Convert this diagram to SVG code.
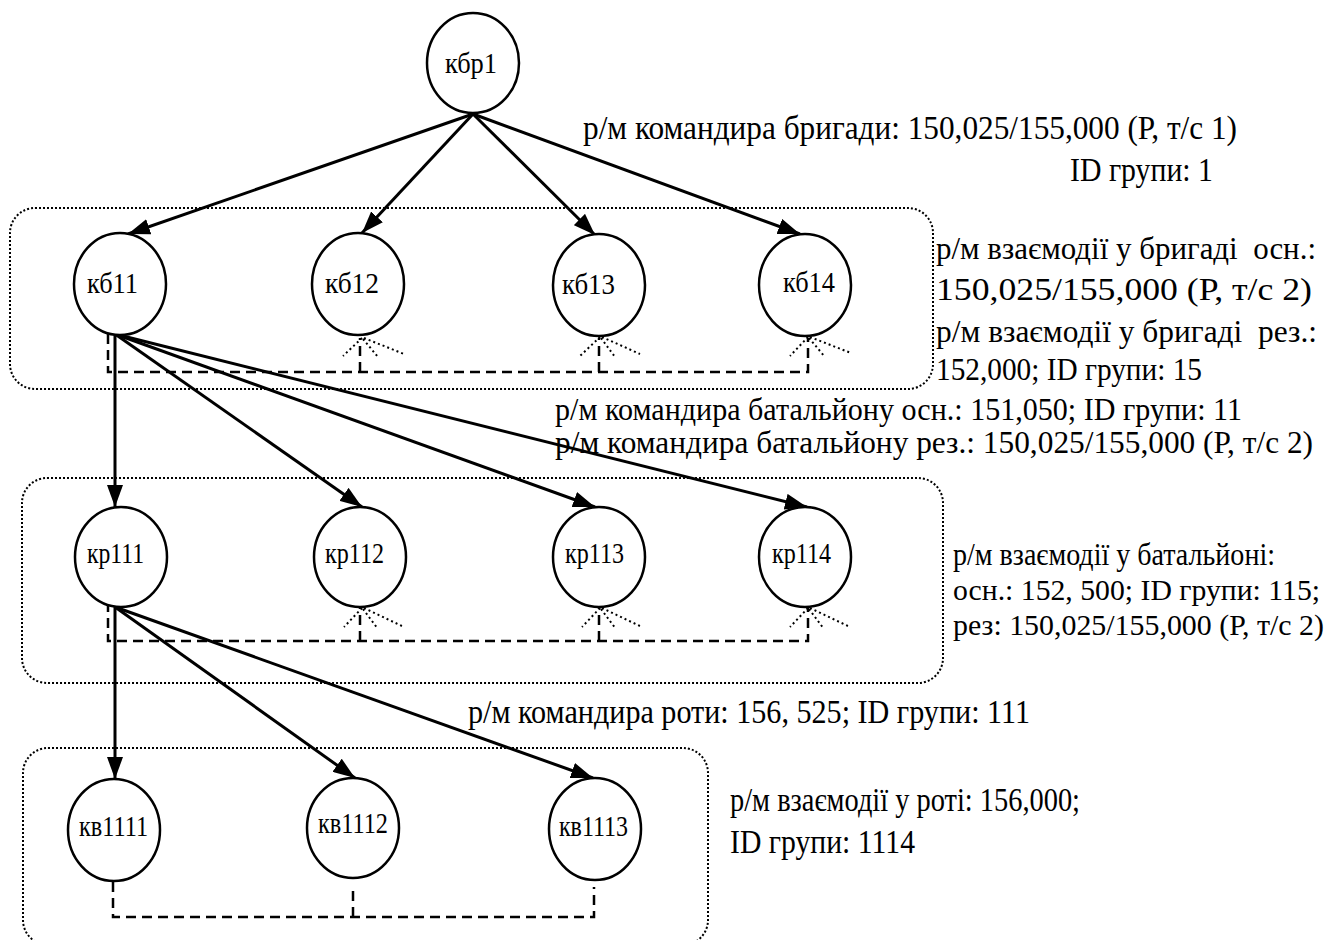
<svg xmlns="http://www.w3.org/2000/svg" width="1332" height="940" viewBox="0 0 1332 940">
<style>
.node ellipse{fill:#fff;stroke:#000;stroke-width:2.5}
.nl{font-family:"Liberation Serif","Times New Roman",serif;font-size:30px;fill:#000}
.lb{font-family:"Liberation Serif","Times New Roman",serif;font-size:33px;fill:#000}
.rs{font-size:31px}
.rt{font-size:29px}
.edge{stroke:#000;stroke-width:3;fill:none;marker-end:url(#ah)}
.box{fill:none;stroke:#000;stroke-width:2;stroke-dasharray:2,2}
.dash{fill:none;stroke:#000;stroke-width:2.5;stroke-dasharray:10,6}
.fan{fill:none;stroke:#000;stroke-width:2;stroke-dasharray:2,3}
</style>
<defs>
<marker id="ah" markerUnits="userSpaceOnUse" markerWidth="22" markerHeight="16" refX="22" refY="8" orient="auto">
<path d="M0,0 L22,8 L0,16 z" fill="#000"/>
</marker>
</defs>
<rect width="1332" height="940" fill="#fff"/>
<g id="groups">
<rect class="box" x="10" y="208" width="923" height="181" rx="25"/>
<rect class="box" x="22" y="478" width="921" height="205" rx="25"/>
<rect class="box" x="23" y="748" width="685" height="197" rx="25"/>
</g>
<g id="links">
<path class="dash" d="M108,334 V372 H808 V338 M360,372 V338 M599,372 V338"/>
<path class="fan" d="M362,338 L343,356 M363,339 L378,357 M364,338 L404,354 M600,337 L580,356 M601,338 L615,357 M602,337 L640,354 M808,337 L790,356 M809,338 L825,357 M810,337 L851,353"/>
<path class="dash" d="M108,602 V641 H808 V608 M360,641 V608 M599,641 V608"/>
<path class="fan" d="M362,608 L344,627 M363,609 L378,629 M364,608 L404,627 M600,608 L582,627 M601,609 L616,629 M602,608 L642,627 M808,608 L790,627 M809,609 L824,629 M810,608 L850,627"/>
<path class="dash" d="M113,882 V917 H594 V887 M353,917 V885"/>
</g>
<g id="connectors">
<line class="edge" x1="473" y1="114" x2="128" y2="234"/>
<line class="edge" x1="473" y1="114" x2="362" y2="233"/>
<line class="edge" x1="473" y1="114" x2="595" y2="235"/>
<line class="edge" x1="473" y1="114" x2="800" y2="234"/>
<line class="edge" x1="115" y1="334" x2="115" y2="507"/>
<line class="edge" x1="115" y1="334" x2="362" y2="507"/>
<line class="edge" x1="115" y1="334" x2="595" y2="507"/>
<line class="edge" x1="115" y1="334" x2="807" y2="507"/>
<line class="edge" x1="115" y1="607" x2="115" y2="779"/>
<line class="edge" x1="115" y1="607" x2="355" y2="778"/>
<line class="edge" x1="115" y1="607" x2="593" y2="778"/>
</g>
<g id="n_kbr1" class="node"><ellipse cx="473" cy="63" rx="46" ry="50"/><text class="nl" x="445" y="73" textLength="52" lengthAdjust="spacingAndGlyphs">кбр1</text></g>
<g id="n_kb11" class="node"><ellipse cx="120" cy="284" rx="46" ry="51"/><text class="nl" x="87" y="293" textLength="51" lengthAdjust="spacingAndGlyphs">кб11</text></g>
<g id="n_kb12" class="node"><ellipse cx="358" cy="284" rx="46" ry="51"/><text class="nl" x="325" y="293" textLength="54" lengthAdjust="spacingAndGlyphs">кб12</text></g>
<g id="n_kb13" class="node"><ellipse cx="599" cy="285" rx="46" ry="51"/><text class="nl" x="562" y="294" textLength="53" lengthAdjust="spacingAndGlyphs">кб13</text></g>
<g id="n_kb14" class="node"><ellipse cx="805" cy="285" rx="46" ry="51"/><text class="nl" x="783" y="292" textLength="52" lengthAdjust="spacingAndGlyphs">кб14</text></g>
<g id="n_kr111" class="node"><ellipse cx="121" cy="557" rx="46" ry="50"/><text class="nl" x="87" y="563" textLength="57" lengthAdjust="spacingAndGlyphs">кр111</text></g>
<g id="n_kr112" class="node"><ellipse cx="360" cy="557" rx="46" ry="50"/><text class="nl" x="325" y="563" textLength="59" lengthAdjust="spacingAndGlyphs">кр112</text></g>
<g id="n_kr113" class="node"><ellipse cx="599" cy="557" rx="46" ry="50"/><text class="nl" x="565" y="563" textLength="59" lengthAdjust="spacingAndGlyphs">кр113</text></g>
<g id="n_kr114" class="node"><ellipse cx="805" cy="557" rx="46" ry="50"/><text class="nl" x="772" y="563" textLength="59" lengthAdjust="spacingAndGlyphs">кр114</text></g>
<g id="n_kv1111" class="node"><ellipse cx="114" cy="830" rx="46" ry="51"/><text class="nl" x="79" y="836" textLength="69" lengthAdjust="spacingAndGlyphs">кв1111</text></g>
<g id="n_kv1112" class="node"><ellipse cx="353" cy="828" rx="46" ry="50"/><text class="nl" x="318" y="833" textLength="70" lengthAdjust="spacingAndGlyphs">кв1112</text></g>
<g id="n_kv1113" class="node"><ellipse cx="595" cy="829" rx="46" ry="51"/><text class="nl" x="559" y="836" textLength="69" lengthAdjust="spacingAndGlyphs">кв1113</text></g>
<g id="labels">
<text class="lb" x="583" y="139" textLength="654" lengthAdjust="spacingAndGlyphs">р/м командира бригади: 150,025/155,000 (Р, т/с 1)</text>
<text class="lb" x="1070" y="181" textLength="143" lengthAdjust="spacingAndGlyphs">ID групи: 1</text>
<text class="lb rs" x="936" y="259" textLength="380" lengthAdjust="spacingAndGlyphs" xml:space="preserve">р/м взаємодії у бригаді  осн.:</text>
<text class="lb rs" x="936" y="300" textLength="376" lengthAdjust="spacingAndGlyphs">150,025/155,000 (Р, т/с 2)</text>
<text class="lb rs" x="936" y="342" textLength="381" lengthAdjust="spacingAndGlyphs" xml:space="preserve">р/м взаємодії у бригаді  рез.:</text>
<text class="lb rs" x="936" y="380" textLength="266" lengthAdjust="spacingAndGlyphs">152,000; ID групи: 15</text>
<text class="lb rs" x="555" y="420" textLength="687" lengthAdjust="spacingAndGlyphs">р/м командира батальйону осн.: 151,050; ID групи: 11</text>
<text class="lb rs" x="555" y="453" textLength="758" lengthAdjust="spacingAndGlyphs">р/м командира батальйону рез.: 150,025/155,000 (Р, т/с 2)</text>
<text class="lb rs" x="953" y="565" textLength="322" lengthAdjust="spacingAndGlyphs">р/м взаємодії у батальйоні:</text>
<text class="lb rt" x="953" y="600" textLength="367" lengthAdjust="spacingAndGlyphs">осн.: 152, 500; ID групи: 115;</text>
<text class="lb rt" x="953" y="635" textLength="371" lengthAdjust="spacingAndGlyphs">рез: 150,025/155,000 (Р, т/с 2)</text>
<text class="lb" x="468" y="723" textLength="562" lengthAdjust="spacingAndGlyphs">р/м командира роти: 156, 525; ID групи: 111</text>
<text class="lb" x="730" y="811" textLength="350" lengthAdjust="spacingAndGlyphs">р/м взаємодії у роті: 156,000;</text>
<text class="lb" x="730" y="853" textLength="185" lengthAdjust="spacingAndGlyphs">ID групи: 1114</text>
</g>
</svg>
